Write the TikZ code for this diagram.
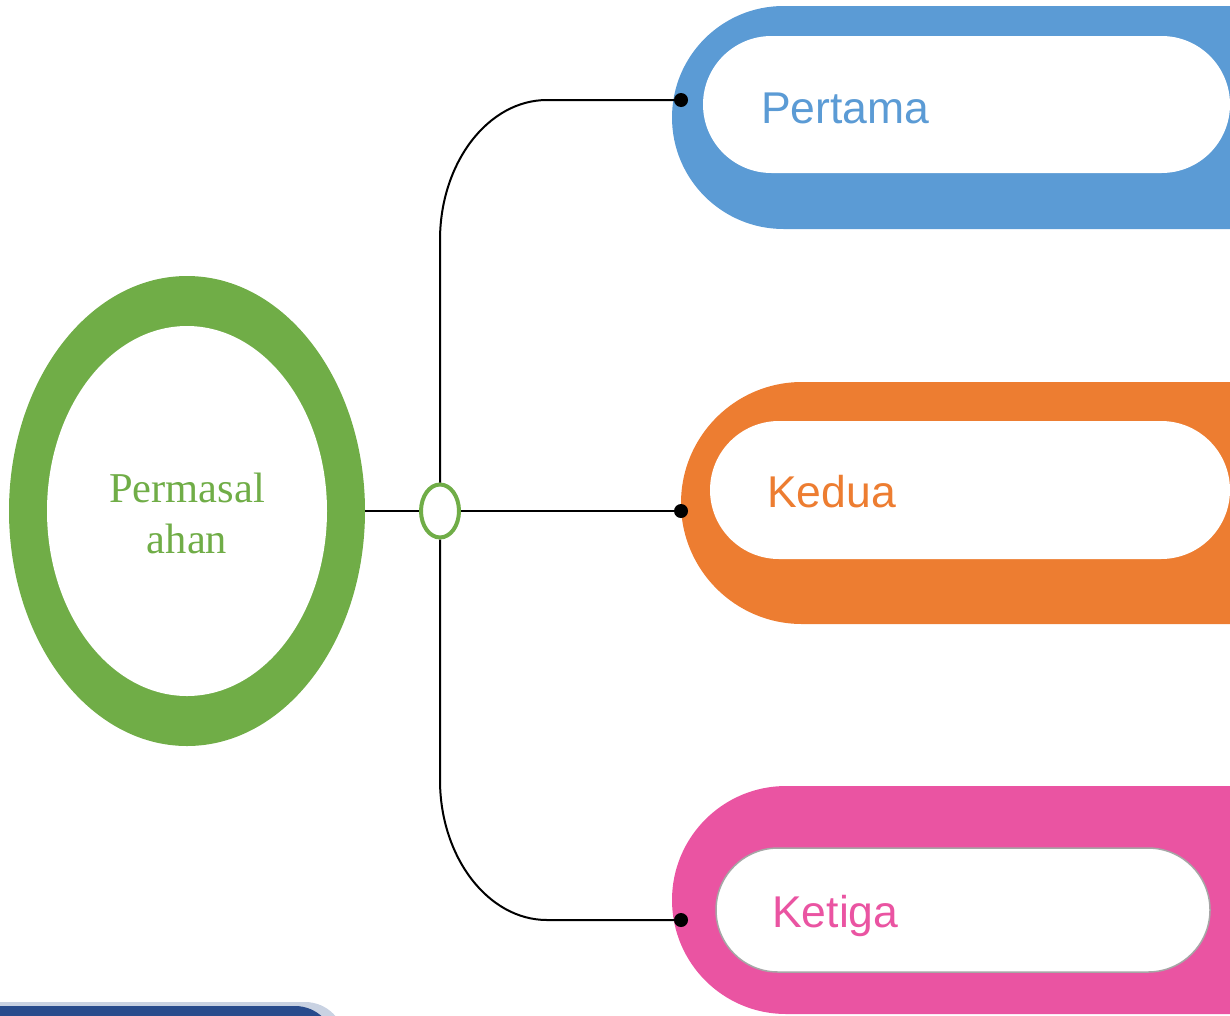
\documentclass[tikz,border=0pt]{standalone}
\usepackage{fontspec}
\setmainfont{Liberation Serif}
\setsansfont{Liberation Sans}
\usepackage{tikz}
\usetikzlibrary{shapes.geometric}
\definecolor{pgreen}{HTML}{70AD47}
\definecolor{pblue}{HTML}{5B9BD5}
\definecolor{porange}{HTML}{ED7D31}
\definecolor{ppink}{HTML}{EA54A2}
\definecolor{pnavy}{HTML}{284B8C}

\begin{document}
\begin{tikzpicture}[x=1pt, y=-1pt,
  link/.style={black, line width=2pt},
  dot/.style={circle, fill=black, inner sep=0pt, minimum size=14pt},
  tag/.style={anchor=base west, inner sep=0pt, font=\fontsize{44.5}{53}\sffamily}]
  \useasboundingbox (0,0) rectangle (1230,1015);
  \clip (0,0) rectangle (1230,1015);
  \coordinate (topbend) at (440,240);
  \coordinate (topend) at (547,100);
  \coordinate (botbend) at (440,780);
  \coordinate (botend) at (547,920);
  % the three bands
  \fill [pblue, rounded corners=111.5pt] (672,6) rectangle (1460,229);
  \fill [white, rounded corners=68.5pt] (703,36) rectangle (1230,173);
  \fill [porange, rounded corners=121pt] (681,382) rectangle (1460,624);
  \fill [white, rounded corners=69pt] (710,421) rectangle (1230,559);
  \fill [ppink, rounded corners=114pt] (672,786) rectangle (1460,1014);
  \filldraw [fill=white, draw=black!35, line width=1.5pt, rounded corners=62pt] (716,848) rectangle (1210,972);
  \fill [pnavy!25, rounded corners=40pt] (-60,1002) rectangle (345,1080);
  \fill [pnavy, rounded corners=40pt] (-60,1006) rectangle (335,1080);
  \node [ellipse, fill=pgreen, minimum width=356pt, minimum height=470pt, inner sep=0pt] (ring) at (187,511) {};
  \node [ellipse, fill=white, minimum width=280pt, minimum height=370pt, inner sep=0pt] (core) at (ring.center) {};
  \node [align=center, text=pgreen, font=\fontsize{42.5}{51}\selectfont] (main) at (187,513) {Permasal\\ahan};
  \node [ellipse, draw=pgreen, line width=4pt, fill=white, minimum width=38pt, minimum height=53pt, inner sep=0pt] (hub) at (440,511) {};
  \node [dot] (d1) at (681,100) {};
  \node [dot] (d2) at (681,511) {};
  \node [dot] (d3) at (681,920) {};
  \draw [link] (ring.east) -- (hub.west);
  \draw [link] (hub.east) -- (d2.center);
  \draw [link] (hub.north) -- (topbend) .. controls (440,163) and (488,100) .. (topend) -- (d1.center);
  \draw [link] (hub.south) -- (botbend) .. controls (440,857) and (488,920) .. (botend) -- (d3.center);
  \node [tag, text=pblue] (first) at (761,123) {Pertama};
  \node [tag, text=porange] (second) at (767,507) {Kedua};
  \node [tag, text=ppink] (third) at (772,927) {Ketiga};
\end{tikzpicture}
\end{document}
